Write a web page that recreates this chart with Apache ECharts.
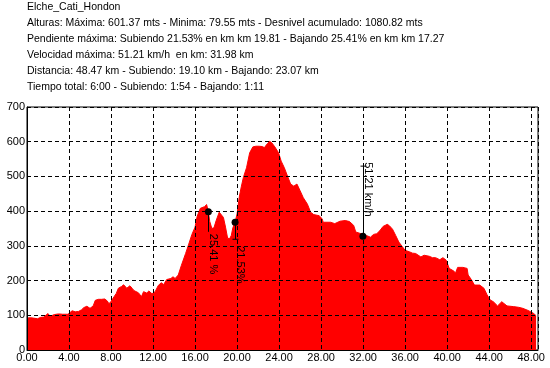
<!DOCTYPE html>
<html>
<head>
<meta charset="utf-8">
<script src="https://cdn.jsdelivr.net/npm/echarts@6/dist/echarts.min.js"></script>
<style>html,body{margin:0;padding:0;background:#fff}#c{width:550px;height:368px}</style>
</head>
<body>
<div id="c"></div>
<script>
var headerLines = [
  'Elche_Cati_Hondon',
  'Alturas: Máxima: 601.37 mts - Minima: 79.55 mts - Desnivel acumulado: 1080.82 mts',
  'Pendiente máxima: Subiendo 21.53% en km km 19.81 - Bajando 25.41% en km km 17.27',
  'Velocidad máxima: 51.21 km/h  en km: 31.98 km',
  'Distancia: 48.47 km - Subiendo: 19.10 km - Bajando: 23.07 km',
  'Tiempo total: 6:00 - Subiendo: 1:54 - Bajando: 1:11'
];
var km = [0.0,0.3,0.6,1.0,1.3,1.6,2.0,2.2,2.6,3.0,3.4,3.9,4.1,4.3,4.6,4.9,5.2,5.4,5.7,6.0,
  6.3,6.5,6.8,7.1,7.4,7.65,7.8,8.0,8.3,8.5,8.7,9.0,9.2,9.5,9.8,10.0,10.2,10.6,10.9,11.1,
  11.4,11.6,11.9,12.0,12.2,12.5,12.8,13.0,13.3,13.7,13.9,14.1,14.4,14.7,15.1,15.4,15.7,16.0,16.2,16.5,
  16.9,17.1,17.27,17.4,17.6,17.8,18.0,18.3,18.45,18.7,18.9,19.1,19.3,19.45,19.6,19.81,20.0,20.2,20.4,20.6,
  20.9,21.2,21.5,21.8,22.1,22.4,22.6,22.9,23.1,23.3,23.6,23.95,24.2,24.5,24.8,25.1,25.4,25.7,25.85,26.0,
  26.3,26.7,27.0,27.3,27.8,28.1,28.2,28.9,29.3,29.8,30.3,30.7,31.1,31.3,31.8,31.98,32.3,32.7,33.0,33.3,
  33.6,33.9,34.3,34.5,34.8,35.1,35.4,35.7,36.0,36.4,36.7,37.0,37.5,37.8,38.3,38.6,38.9,39.3,39.6,39.9,
  40.2,40.6,40.8,41.0,41.5,41.9,42.0,42.3,42.6,43.1,43.5,43.8,44.1,44.4,44.8,45.2,45.7,46.3,46.8,47.2,
  47.7,48.2,48.47];
var elev = [92,93,92,90,94,95,105,97,102,104,103,103,108,113,110,111,116,122,126,120,
  127,143,146,146,147,141,133,140,154,163,178,183,188,178,185,178,171,165,154,168,
  164,170,162,158,168,186,194,188,203,206,211,206,216,244,278,305,333,354,385,408,
  413,419,398,370,350,352,372,397,401,382,354,322,321,330,352,368,392,439,470,497,
  525,568,585,587,587,586,583,595,601,597,585,568,544,525,501,478,472,478,483,459,
  439,420,397,390,387,378,368,368,364,371,373,370,359,340,335,328,330,325,333,335,
  344,356,362,358,348,330,311,299,287,283,279,278,268,273,270,266,266,260,266,259,
  235,228,222,238,238,235,216,203,187,187,178,159,144,139,127,139,127,125,123,120,
  114,106,99];
var annotKm = [17.27, 19.81, 31.98];
var annotElev = [398, 368, 328];
var annotText = ['25.41 %', '21.53%', '51.21 km/h'];
var annotDir = [1, 1, -1];
var xTicks = [0,4,8,12,16,20,24,28,32,36,40,44,48];
var yTicks = [0,100,200,300,400,500,600,700];

var profile = km.map(function(k,i){return [k, elev[i]];});
var annots = annotKm.map(function(k,i){return [k, annotElev[i], i];});
var FONT = '"Liberation Sans", Arial, sans-serif';

var chart = echarts.init(document.getElementById('c'), null, {renderer:'canvas'});
chart.setOption({
  animation:false,
  backgroundColor:'#fff',
  title:{
    text: headerLines.join('\n'), left:27, top:-1, padding:0,
    textStyle:{fontFamily:FONT, fontSize:10.5, fontWeight:'normal', color:'#000', lineHeight:16}
  },
  grid:{left:27, top:107, right:12, bottom:18, show:true, borderColor:'#000', borderWidth:1, backgroundColor:'transparent'},
  xAxis:{
    type:'value', min:0, max:48.65, interval:4, z:5,
    axisLine:{show:true, lineStyle:{color:'#000', width:1}},
    axisTick:{show:false},
    axisLabel:{color:'#000', fontFamily:FONT, fontSize:11, margin:2, showMaxLabel:false,
      formatter:function(v){return xTicks.indexOf(v)>=0 ? v.toFixed(2) : '';}},
    splitLine:{show:true, lineStyle:{color:'#000', type:[4,3], width:1}}
  },
  yAxis:{
    type:'value', min:0, max:700, interval:100, z:5,
    axisLine:{show:true, lineStyle:{color:'#000', width:1}},
    axisTick:{show:false},
    axisLabel:{color:'#000', fontFamily:FONT, fontSize:11, margin:2, padding:[0,0,6,0],
      formatter:function(v){return yTicks.indexOf(v)>=0 ? String(v) : '';}},
    splitLine:{show:true, lineStyle:{color:'#000', type:[4,3], width:1}}
  },
  series:[
    {type:'line', data:profile, symbol:'none', smooth:false, z:2,
     lineStyle:{color:'#ff0000', width:1}, areaStyle:{color:'#ff0000', opacity:1}},
    {type:'custom', data:annots, z:10, clip:false,
     renderItem:function(params, api){
       var i = api.value(2);
       var p = api.coord([api.value(0), api.value(1)]);
       var dir = annotDir[i];
       var len = [20, 17, 70][i];
       var textStart = [22, 24, 74][i];
       var x = Math.round(p[0]) + 0.5;
       var endY = p[1] + dir*len;
       var children = [
         {type:'line', shape:{x1:x, y1:p[1], x2:x, y2:endY}, style:{stroke:'#000', lineWidth:1}},
         {type:'circle', shape:{cx:p[0], cy:p[1], r:3.5}, style:{fill:'#000'}}
       ];
       if (i>0) children.push({type:'line', shape:{x1:x-3, y1:endY, x2:x+3, y2:endY}, style:{stroke:'#000', lineWidth:1}});
       var ty = dir>0 ? p[1] + textStart : p[1] - textStart;
       children.push({type:'text', x:x-1, y:ty, rotation:-Math.PI/2,
         style:{text:annotText[i], fill:'#000', font:'11px '+FONT, align:'left', verticalAlign:'bottom'}});
       return {type:'group', children:children};
     }}
  ]
});
</script>
</body>
</html>
